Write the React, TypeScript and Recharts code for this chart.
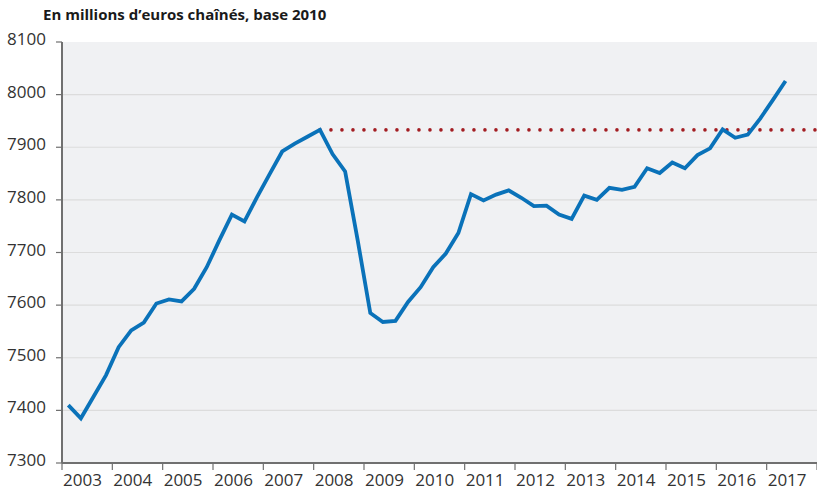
import React from 'react';
import { LineChart, Line, XAxis, YAxis, CartesianGrid } from 'recharts';

// Quarterly values, 2003 T1 -> 2017 T2 (millions d'euros chaînés, base 2010)
const quarters: string[] = [];
const years = [2003, 2004, 2005, 2006, 2007, 2008, 2009, 2010, 2011, 2012, 2013, 2014, 2015, 2016, 2017];
years.forEach((y) => [1, 2, 3, 4].forEach((q) => quarters.push(`${y}T${q}`)));

const pib = [
  7410, 7385, 7426, 7467,
  7520, 7552, 7567, 7603,
  7611, 7607, 7631, 7672,
  7723, 7772, 7759, 7805,
  7849, 7892, 7907, 7920,
  7933, 7887, 7854, 7723,
  7585, 7568, 7570, 7606,
  7634, 7672, 7698, 7737,
  7811, 7799, 7810, 7818,
  7804, 7788, 7789, 7772,
  7764, 7808, 7800, 7823,
  7819, 7825, 7860, 7851,
  7871, 7860, 7885, 7898,
  7934, 7918, 7924, 7955,
  7990, 8026,
];

const yTicks = [7300, 7400, 7500, 7600, 7700, 7800, 7900, 8000, 8100];
const gridValues = [7400, 7500, 7600, 7700, 7800, 7900, 8000];
const xTicks = [0, 4, 8, 12, 16, 20, 24, 28, 32, 36, 40, 44, 48, 52, 56, 60];

const peakIndex = 20; // 2008 T1
const peakValue = pib[peakIndex];

const mainData = pib.map((v, i) => ({ x: i + 0.5, q: quarters[i], pib: v }));
const peakData = [
  { x: peakIndex + 0.5, peak: peakValue },
  { x: quarters.length, peak: peakValue },
];

const FONT = '"Open Sans", "DejaVu Sans", sans-serif';

const XTick = (props: any) => {
  const { x, y, payload } = props;
  const idx = payload.value / 4;
  if (idx >= years.length) return null;
  return (
    <text x={x + 1} y={y} dy={14} textAnchor="start" fontSize={17} fill="#333" fontFamily={FONT}>
      {years[idx]}
    </text>
  );
};

const YTick = (props: any) => {
  const { x, y, payload } = props;
  return (
    <text x={x} y={y} dy={3} textAnchor="end" fontSize={17} fill="#333" fontFamily={FONT}>
      {payload.value}
    </text>
  );
};

export default function App() {
  return (
    <div style={{ position: 'absolute', left: 0, top: 0, width: 817, height: 490, background: '#fff' }}>
      <div
        style={{
          position: 'absolute',
          left: 43,
          top: 4,
          fontFamily: FONT,
          fontWeight: 700,
          fontSize: 15,
          color: '#1a1a1a',
          whiteSpace: 'nowrap',
        }}
      >
        En millions d’euros chaînés, base 2010
      </div>
      <LineChart width={817} height={490} margin={{ top: 42, right: 0, left: 0, bottom: 0 }}>
        <CartesianGrid
          fill="#f0f1f3"
          stroke="#dcdcdc"
          strokeWidth={1.2}
          vertical={false}
          horizontalValues={gridValues}
        />
        <XAxis
          dataKey="x"
          type="number"
          domain={[0, 60]}
          ticks={xTicks}
          interval={0}
          height={27}
          allowDataOverflow
          axisLine={{ stroke: '#707070', strokeWidth: 2 }}
          tickLine={{ stroke: '#707070', strokeWidth: 1.2 }}
          tickSize={7}
          tick={<XTick />}
        />
        <YAxis
          type="number"
          domain={[7300, 8100]}
          ticks={yTicks}
          interval={0}
          width={62}
          axisLine={{ stroke: '#707070', strokeWidth: 2 }}
          tickLine={{ stroke: '#707070', strokeWidth: 1.2 }}
          tickSize={6}
          tickMargin={10}
          tick={<YTick />}
        />
        <Line
          data={peakData}
          dataKey="peak"
          type="linear"
          stroke="#a31d22"
          strokeWidth={3.6}
          strokeDasharray="0 11"
          strokeLinecap="round"
          dot={false}
          activeDot={false}
          isAnimationActive={false}
        />
        <Line
          data={mainData}
          dataKey="pib"
          type="linear"
          stroke="#0a72b9"
          strokeWidth={3.8}
          strokeLinejoin="miter"
          dot={false}
          activeDot={false}
          isAnimationActive={false}
        />
      </LineChart>
    </div>
  );
}
